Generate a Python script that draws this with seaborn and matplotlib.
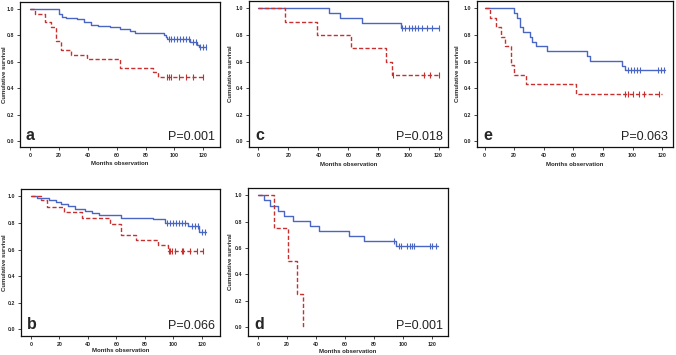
import numpy as np
import pandas as pd
import matplotlib
matplotlib.use("Agg")
import matplotlib.pyplot as plt
import seaborn as sns

# ---- data (months, cumulative survival) ----
a_blue_t = [0, 20, 22, 25, 32, 37, 42, 47, 55, 62, 69, 73, 93, 94, 95, 111, 116, 117]
a_blue_s = [1.0, 0.96, 0.94, 0.93, 0.92, 0.90, 0.88, 0.87, 0.86, 0.845, 0.83, 0.815, 0.80, 0.785, 0.77, 0.75, 0.73, 0.715]
a_blue_end = 122
a_blue_cens = [96, 98, 100, 102, 104, 106, 108, 110, 113, 115, 118, 120, 122]
a_red_t = [0, 3, 10, 14, 18, 21, 28, 39, 62, 85, 89]
a_red_s = [1.0, 0.965, 0.90, 0.865, 0.76, 0.69, 0.655, 0.62, 0.55, 0.52, 0.483]
a_red_end = 120
a_red_cens = [95, 96.5, 98, 103, 108.5, 113, 120]

c_blue_t = [0, 47, 54.5, 69, 95]
c_blue_s = [1.0, 0.963, 0.926, 0.889, 0.852]
c_blue_end = 120.5
c_blue_cens = [95.6, 98, 100, 102, 104.5, 106.5, 109, 112, 115.5, 120]
c_red_t = [0, 18, 39, 62, 85, 89]
c_red_s = [1.0, 0.9, 0.8, 0.7, 0.6, 0.5]
c_red_end = 120
c_red_cens = [90, 110, 114, 120]

e_blue_t = [0, 20, 22, 24, 26, 31, 32, 35, 42, 69, 71, 93, 95]
e_blue_s = [1.0, 0.964, 0.929, 0.857, 0.821, 0.786, 0.75, 0.714, 0.679, 0.643, 0.607, 0.57, 0.533]
e_blue_end = 122
e_blue_cens = [97, 99, 101, 103, 105, 117, 119, 121]
e_red_t = [0, 4, 8, 11, 14, 18, 20, 28, 62]
e_red_s = [1.0, 0.929, 0.857, 0.786, 0.714, 0.571, 0.5, 0.429, 0.357]
e_red_end = 120
e_red_cens = [95, 97, 100, 104, 108, 118]

b_blue_t = [0, 4, 13, 17.6, 21, 26, 31, 38, 43, 47.5, 63, 86, 94.5, 110.5, 118]
b_blue_s = [1.0, 0.99, 0.976, 0.96, 0.94, 0.925, 0.907, 0.89, 0.875, 0.858, 0.84, 0.826, 0.80, 0.775, 0.735]
b_blue_end = 123
b_blue_cens = [95.5, 98, 100, 102, 104, 106, 108, 113, 115, 117, 120, 122]
b_red_t = [0, 7, 11, 23, 36, 55.5, 63, 73.5, 89.5, 96]
b_red_s = [1.0, 0.97, 0.917, 0.879, 0.834, 0.789, 0.708, 0.67, 0.633, 0.588]
b_red_end = 121
b_red_cens = [97, 98, 99, 101, 106, 107, 112, 116.5, 121]

d_blue_t = [0, 4, 8, 14, 18, 24, 36, 42, 63, 73, 95]
d_blue_s = [1.0, 0.962, 0.923, 0.885, 0.846, 0.808, 0.769, 0.731, 0.692, 0.654, 0.613]
d_blue_end = 124
d_blue_cens = [93.5, 97.5, 99, 102.5, 105, 106.5, 107.5, 118.5, 120, 122.5]
d_red_t = [0, 11, 21, 27, 31]
d_red_s = [1.0, 0.75, 0.5, 0.25, 0.0]
d_red_end = 31
d_red_cens = []

panel_letters = ["a", "c", "e", "b", "d"]
p_values = ["P=0.001", "P=0.018", "P=0.063", "P=0.066", "P=0.001"]

BLUE = "#4a66c4"
RED = "#c83030"

sns.set_style("ticks")
plt.rcParams["font.family"] = ["Liberation Sans", "DejaVu Sans"]


def step_frame(times, surv, end):
    t = list(times) + [end]
    s = list(surv) + [surv[-1]]
    return pd.DataFrame({"months": t, "survival": s})


def cens_frame(times, surv, cens):
    idx = np.searchsorted(times, cens, side="right") - 1
    return pd.DataFrame({"months": cens, "survival": np.array(surv)[idx]})


def draw_panel(ax, blue, red, letter, ptext, xlim, ylim, xlab_y, ylab_x):
    for (t, s, end, cens), col, dash in [(blue, BLUE, None), (red, RED, (3.0, 1.6))]:
        df = step_frame(t, s, end)
        kw = {} if dash is None else {"dashes": dash}
        sns.lineplot(data=df, x="months", y="survival", ax=ax, color=col,
                     linewidth=1.0, drawstyle="steps-post",
                     estimator=None, sort=False, **kw)
        if len(cens):
            cf = cens_frame(t, s, cens)
            sns.scatterplot(data=cf, x="months", y="survival", ax=ax, color=col,
                            marker="|", s=20, linewidth=0.8, zorder=3)
    ax.set_xlim(*xlim)
    ax.set_ylim(*ylim)
    ax.set_xticks(range(0, 121, 20))
    ax.set_yticks([0.0, 0.2, 0.4, 0.6, 0.8, 1.0])
    ax.set_yticklabels(["0.0", "0.2", "0.4", "0.6", "0.8", "1.0"])
    ax.tick_params(labelsize=3.8, length=2.5, width=0.6, pad=1.5)
    for lab in ax.get_xticklabels() + ax.get_yticklabels():
        lab.set_fontweight("bold")
    ax.set_xlabel("Months observation", fontsize=4.3, fontweight="bold")
    ax.set_ylabel("Cumulative survival", fontsize=4.3, fontweight="bold")
    ax.xaxis.set_label_coords(0.5, xlab_y)
    ax.yaxis.set_label_coords(ylab_x, 0.5)
    ax.xaxis.label.set_va("center")
    ax.yaxis.label.set_va("center")
    for sp in ax.spines.values():
        sp.set_visible(True)
        sp.set_linewidth(0.9)
        sp.set_color("#111111")
    ax.text(0.03, 0.025, letter, transform=ax.transAxes, fontsize=11.5,
            fontweight="bold", ha="left", va="bottom")
    ax.text(0.975, 0.025, ptext, transform=ax.transAxes, fontsize=9,
            color="#222222", ha="right", va="bottom")


W, H = 676, 355
fig = plt.figure(figsize=(W / 100, H / 100), dpi=100)


def add_ax(left, top, right, bottom):
    return fig.add_axes([left / W, 1 - bottom / H, (right - left) / W, (bottom - top) / H])


ax_a = add_ax(20, 2, 220, 147)
ax_c = add_ax(249, 1, 448, 147)
ax_e = add_ax(477, 1, 673, 147)
ax_b = add_ax(21, 189, 220, 336)
ax_d = add_ax(248, 188, 448, 336)

draw_panel(ax_a, (a_blue_t, a_blue_s, a_blue_end, a_blue_cens),
           (a_red_t, a_red_s, a_red_end, a_red_cens),
           panel_letters[0], p_values[0], (-7.3, 131.8), (-0.043, 1.052), -0.117, -0.075)
draw_panel(ax_c, (c_blue_t, c_blue_s, c_blue_end, c_blue_cens),
           (c_red_t, c_red_s, c_red_end, c_red_cens),
           panel_letters[1], p_values[1], (-6.2, 126.3), (-0.043, 1.056), -0.117, -0.095)
draw_panel(ax_e, (e_blue_t, e_blue_s, e_blue_end, e_blue_cens),
           (e_red_t, e_red_s, e_red_end, e_red_cens),
           panel_letters[2], p_values[2], (-5.1, 127.3), (-0.043, 1.056), -0.117, -0.10)
draw_panel(ax_b, (b_blue_t, b_blue_s, b_blue_end, b_blue_cens),
           (b_red_t, b_red_s, b_red_end, b_red_cens),
           panel_letters[3], p_values[3], (-7.0, 132.8), (-0.05, 1.055), -0.102, -0.085)
draw_panel(ax_d, (d_blue_t, d_blue_s, d_blue_end, d_blue_cens),
           (d_red_t, d_red_s, d_red_end, d_red_cens),
           panel_letters[4], p_values[4], (-6.9, 131.1), (-0.068, 1.056), -0.102, -0.09)

fig.savefig("out.png", dpi=100)
